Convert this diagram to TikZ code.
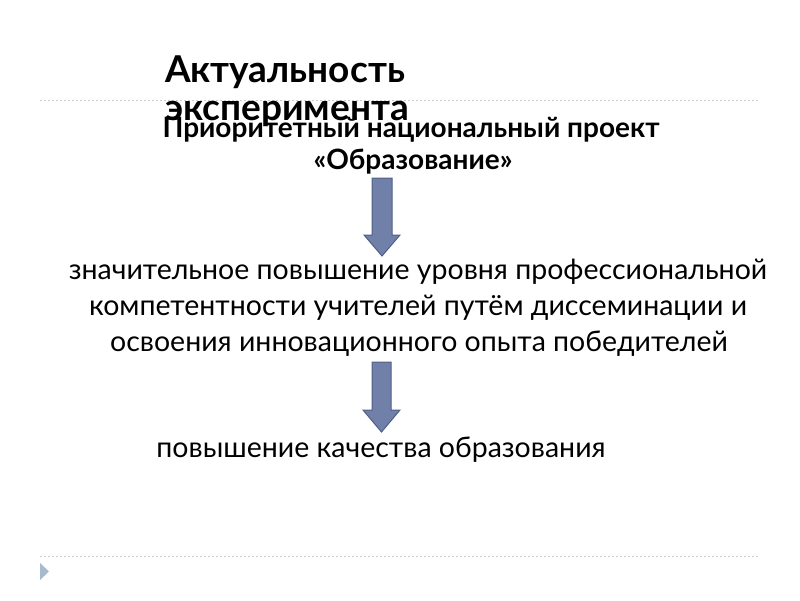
\documentclass[tikz,border=0pt]{standalone}
\usepackage{fontspec}
\setmainfont{Lato}
\begin{document}
\begin{tikzpicture}[x=1pt,y=-1pt,
  txt/.style={inner sep=0pt,text=black},
  body/.style={txt,font=\fontsize{28.5}{36}\selectfont},
  boldtxt/.style={txt,font=\bfseries\fontsize{28}{32}\selectfont},
  titletxt/.style={txt,font=\bfseries\fontsize{37}{40}\selectfont},
  sep/.style={draw=gray!40,line width=1pt,dash pattern=on 2pt off 2pt},
  arrowbody/.style={fill=arrfill,draw=arrdraw,line width=1pt}]
\definecolor{arrfill}{HTML}{7080A8}
\definecolor{arrdraw}{HTML}{4F5F88}
\definecolor{bullet}{HTML}{A6BAD0}
\useasboundingbox (0,0) rectangle (800,600);
% separators
\coordinate (s1a) at (40,100); \coordinate (s1b) at (760,100);
\coordinate (s2a) at (40,556); \coordinate (s2b) at (758,556);
\draw[sep] (s1a) -- (s1b);
\draw[sep] (s2a) -- (s2b);
% bullet triangle
\fill[bullet] (40,563) -- (49,571.5) -- (40,580) -- cycle;
% title
\node[titletxt,anchor=base west] (t1) at (165,82) {Актуальность};
\node[titletxt,anchor=base west] (t2) at (165,120) {эксперимента};
% project
\node[boldtxt,anchor=base] (p1) at (411,137) {Приоритетный национальный проект};
\node[boldtxt,anchor=base] (p2) at (413,169) {«Образование»};
% arrows
\draw[arrowbody] (372,178) -- (392,178) -- (392,235) -- (400,235) -- (382,256) -- (364,235) -- (372,235) -- cycle;
% body
\node[body,anchor=base] (b1) at (418,279) {значительное повышение уровня профессиональной};
\node[body,anchor=base] (b2) at (418,315) {компетентности учителей путём диссеминации и};
\node[body,anchor=base] (b3) at (419,351) {освоения инновационного опыта победителей};
\draw[arrowbody] (372,362) -- (391,362) -- (391,410) -- (400,410) -- (381.5,432) -- (363,410) -- (372,410) -- cycle;
\node[body,anchor=base] (b4) at (381,457) {повышение качества образования};
\end{tikzpicture}
\end{document}
